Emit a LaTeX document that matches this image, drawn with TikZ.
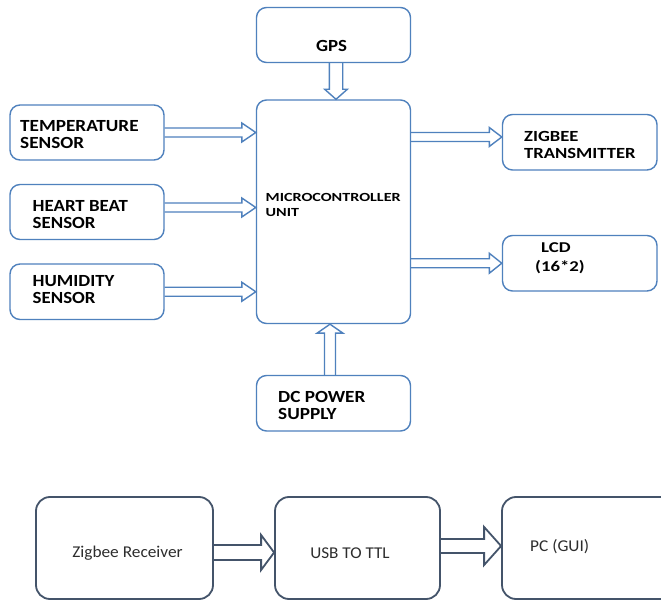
\documentclass[tikz,border=0pt]{standalone}
\usepackage{fontspec}
\setmainfont{Carlito}
\usepackage{graphicx}
\usetikzlibrary{calc}
\definecolor{topblue}{RGB}{79,129,189}
\definecolor{botblue}{RGB}{68,84,106}
\definecolor{bottxt}{RGB}{45,45,45}
\newcommand\sx[2]{\scalebox{#1}[1]{#2}}
\newcommand\twol[2]{\begin{tabular}{@{}l@{}}#1\\#2\end{tabular}}
% horizontal block arrow: style, start, end, shaft half, head half, head length
\newcommand\harr[6]{\draw[#1] let \p1=(#2), \p2=(#3) in
  (\x1,{\y1+#4}) -- ({\x2-#6},{\y1+#4}) -- ({\x2-#6},{\y1+#5}) -- (\x2,\y1)
  -- ({\x2-#6},{\y1-#5}) -- ({\x2-#6},{\y1-#4}) -- (\x1,{\y1-#4});}
% vertical block arrow pointing down in the picture
\newcommand\darr[6]{\draw[#1] let \p1=(#2), \p2=(#3) in
  ({\x1-#4},\y1) -- ({\x1-#4},{\y2+#6}) -- ({\x1-#5},{\y2+#6}) -- (\x1,\y2)
  -- ({\x1+#5},{\y2+#6}) -- ({\x1+#4},{\y2+#6}) -- ({\x1+#4},\y1);}
% vertical block arrow pointing up in the picture
\newcommand\uarr[6]{\draw[#1] let \p1=(#2), \p2=(#3) in
  ({\x1-#4},\y1) -- ({\x1-#4},{\y2-#6}) -- ({\x1-#5},{\y2-#6}) -- (\x1,\y2)
  -- ({\x1+#5},{\y2-#6}) -- ({\x1+#4},{\y2-#6}) -- ({\x1+#4},\y1);}
\tikzset{
  topbox/.style={draw=topblue, line width=1.4pt, rounded corners=10pt, inner sep=0pt},
  botbox/.style={draw=botblue, line width=1.8pt, rounded corners=14pt, inner sep=0pt},
  toparr/.style={draw=topblue, line width=1.4pt, line join=miter},
  botarr/.style={draw=botblue, line width=1.8pt, line join=miter},
  toptxt/.style={inner sep=0pt, anchor=west, text=black, font=\bfseries\fontsize{17}{17}\selectfont},
  bottxtst/.style={inner sep=0pt, text=bottxt, font=\fontsize{16.5}{18}\selectfont},
}
\begin{document}
\begin{tikzpicture}[x=1pt,y=-1pt]
\clip (0,0) rectangle (661,601);
\fill[white] (0,0) rectangle (661,601);
% boxes
\node[topbox, minimum width=154pt, minimum height=55pt] (gps) at (333.5,35) {};
\node[topbox, minimum width=154pt, minimum height=223.5pt] (mcu) at (333.5,211.75) {};
\node[topbox, minimum width=154pt, minimum height=55pt] (temp) at (87,132.5) {};
\node[topbox, minimum width=154pt, minimum height=55pt] (heart) at (87,212) {};
\node[topbox, minimum width=154pt, minimum height=55.5pt] (hum) at (87,291.75) {};
\node[topbox, minimum width=154.5pt, minimum height=55.5pt] (zig) at (579.75,142.25) {};
\node[topbox, minimum width=154.5pt, minimum height=55.5pt] (lcd) at (579.75,263.25) {};
\node[topbox, minimum width=154pt, minimum height=55.5pt] (dc) at (333.5,403.25) {};
\node[botbox, minimum width=177pt, minimum height=102pt] (zr) at (124.5,548) {};
\node[botbox, minimum width=165pt, minimum height=102pt] (usb) at (357.5,548) {};
\node[botbox, minimum width=173pt, minimum height=102pt] (pc) at (588.5,548) {};
% texts
\node[toptxt, anchor=center] (gpsT) at (331.5,46) {\sx{1.11}{GPS}};
\node[toptxt, font=\bfseries\fontsize{12.4}{15}\selectfont] (mcuT) at (265.5,206.5) {\sx{1.3}{\twol{MICROCONTROLLER}{UNIT}}};
\node[toptxt] (tempT) at (20,136.5) {\sx{1.13}{\twol{TEMPERATURE}{SENSOR}}};
\node[toptxt] (heartT) at (32.5,216.5) {\sx{1.11}{\twol{HEART BEAT}{SENSOR}}};
\node[toptxt] (humT) at (32.5,291.5) {\sx{1.11}{\twol{HUMIDITY}{SENSOR}}};
\node[toptxt, font=\bfseries\fontsize{15.5}{17}\selectfont] (zigT) at (524,146.5) {\sx{1.2}{\twol{ZIGBEE}{TRANSMITTER}}};
\node[toptxt, font=\bfseries\fontsize{15}{19}\selectfont] (lcdT) at (535,258.5) {\sx{1.25}{\twol{\hspace{4.8pt}LCD}{(16*2)}}};
\node[toptxt] (dcT) at (278,408) {\sx{1.13}{\twol{DC POWER}{SUPPLY}}};
\node[bottxtst] (zrT) at (127.5,553) {\sx{1.05}{Zigbee Receiver}};
\node[bottxtst] (usbT) at (350,553) {\sx{1.04}{USB TO TTL}};
\node[bottxtst, anchor=west] (pcT) at (530,547) {\sx{1.05}{PC (GUI)}};
% arrows
\harr{toparr}{temp.east}{mcu.west}{4.5pt}{9.5pt}{14pt}
\harr{toparr}{$(heart.east)+(0,-4.5)$}{mcu.west}{4.5pt}{9.5pt}{14pt}
\harr{toparr}{hum.east}{mcu.west}{4.5pt}{9.5pt}{14pt}
\harr{toparr}{$(mcu.east|-zig.west)+(0,-5.25)$}{zig.west}{4.5pt}{9.5pt}{12.5pt}
\harr{toparr}{mcu.east|-lcd.west}{lcd.west}{4.5pt}{10pt}{12.5pt}
\darr{toparr}{$(gps.south)+(2.5,0)$}{mcu.north}{6.7pt}{11.3pt}{10pt}
\uarr{toparr}{$(dc.north)+(-3.5,0)$}{mcu.south}{5.5pt}{13pt}{9pt}
\harr{botarr}{$(zr.east)+(0,4.5)$}{usb.west}{7.5pt}{17.5pt}{13pt}
\harr{botarr}{$(usb.east)+(0,-2)$}{pc.west}{7pt}{19pt}{17pt}
\end{tikzpicture}
\end{document}
